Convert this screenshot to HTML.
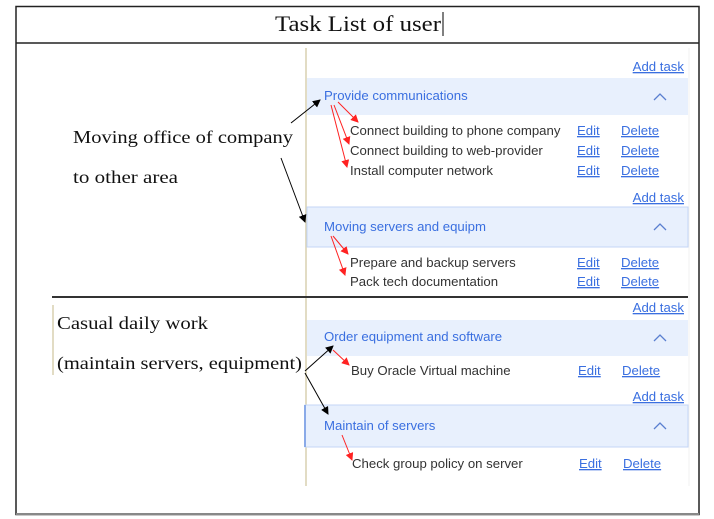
<!DOCTYPE html>
<html><head><meta charset="utf-8"><style>
html,body{margin:0;padding:0;background:#fff;width:714px;height:519px;overflow:hidden}
svg{display:block}
.s{font-family:"Liberation Sans",sans-serif;font-size:13.2px}
.t{fill:#333}
.b{fill:#3a6fe0}
.u{fill:#3a6fe0;text-decoration:underline}
.r{font-family:"Liberation Serif",serif;fill:#111}
</style></head><body>
<svg width="714" height="519" viewBox="0 0 714 519">
<defs>
<marker id="ka" markerWidth="8" markerHeight="8" refX="7" refY="4" orient="auto" markerUnits="userSpaceOnUse"><path d="M0,0 L8,4 L0,8 z" fill="#000"/></marker>
<marker id="ra" markerWidth="8" markerHeight="8" refX="7" refY="4" orient="auto" markerUnits="userSpaceOnUse"><path d="M0,0 L8,4 L0,8 z" fill="#f22"/></marker>
</defs>
<rect x="16" y="6.5" width="683" height="508" fill="none" stroke="#222" stroke-width="1.5"/>
<line x1="16" y1="43" x2="699" y2="43" stroke="#222" stroke-width="1.5"/>
<line x1="16" y1="514" x2="699" y2="514" stroke="#888" stroke-width="2"/>
<text x="275" y="31" class="r" font-size="22" textLength="166" lengthAdjust="spacingAndGlyphs">Task List of user</text>
<line x1="443" y1="12" x2="443" y2="36" stroke="#000" stroke-width="1"/>
<line x1="306" y1="48" x2="306" y2="486" stroke="#d8d0b0" stroke-width="1.5"/>
<line x1="689" y1="48" x2="689" y2="486" stroke="#f0f0f0" stroke-width="1"/>
<rect x="307" y="78" width="381" height="37" fill="#e8f0fd"/>
<rect x="307" y="207" width="381" height="40" fill="#e8f0fd" stroke="#c4d6f6"/>
<rect x="307" y="320" width="381" height="36" fill="#e8f0fd"/>
<rect x="305" y="405" width="383" height="42" fill="#e8f0fd" stroke="#c4d6f6"/>
<line x1="305" y1="405" x2="305" y2="447" stroke="#8aaae8" stroke-width="2"/>
<line x1="52" y1="297" x2="688" y2="297" stroke="#333" stroke-width="2"/>
<line x1="53" y1="305" x2="53" y2="375" stroke="#d8d0b0" stroke-width="1.5"/>
<g class="s">
<text x="684" y="71" text-anchor="end" class="u">Add task</text>
<text x="684" y="202" text-anchor="end" class="u">Add task</text>
<text x="684" y="312" text-anchor="end" class="u">Add task</text>
<text x="684" y="401" text-anchor="end" class="u">Add task</text>
<text x="324" y="100" class="b">Provide communications</text>
<text x="324" y="231" class="b">Moving servers and equipm</text>
<text x="324" y="341" class="b">Order equipment and software</text>
<text x="324" y="430" class="b">Maintain of servers</text>
<text x="350" y="135" class="t">Connect building to phone company</text>
<text x="350" y="155" class="t">Connect building to web-provider</text>
<text x="350" y="175" class="t">Install computer network</text>
<text x="350" y="267" class="t">Prepare and backup servers</text>
<text x="350" y="286" class="t">Pack tech documentation</text>
<text x="351" y="375" class="t">Buy Oracle Virtual machine</text>
<text x="352" y="468" class="t">Check group policy on server</text>
<text x="577" y="135" class="u">Edit</text><text x="621" y="135" class="u">Delete</text>
<text x="577" y="155" class="u">Edit</text><text x="621" y="155" class="u">Delete</text>
<text x="577" y="175" class="u">Edit</text><text x="621" y="175" class="u">Delete</text>
<text x="577" y="267" class="u">Edit</text><text x="621" y="267" class="u">Delete</text>
<text x="577" y="286" class="u">Edit</text><text x="621" y="286" class="u">Delete</text>
<text x="578" y="375" class="u">Edit</text><text x="622" y="375" class="u">Delete</text>
<text x="579" y="468" class="u">Edit</text><text x="623" y="468" class="u">Delete</text>
</g>
<g fill="none" stroke="#5a7fd0" stroke-width="1.3">
<path d="M654 100 l6 -6 l6 6"/><path d="M654 230 l6 -6 l6 6"/><path d="M654 341 l6 -6 l6 6"/><path d="M654 429 l6 -6 l6 6"/>
</g>
<g class="r" font-size="18">
<text x="73" y="143" textLength="220" lengthAdjust="spacingAndGlyphs">Moving office of company</text>
<text x="73" y="183" textLength="105" lengthAdjust="spacingAndGlyphs">to other area</text>
<text x="57" y="329" textLength="151" lengthAdjust="spacingAndGlyphs">Casual daily work</text>
<text x="57" y="369" textLength="245" lengthAdjust="spacingAndGlyphs">(maintain servers, equipment)</text>
</g>
<g stroke="#000" stroke-width="1" marker-end="url(#ka)">
<line x1="291" y1="123" x2="320" y2="100"/>
<line x1="281" y1="158" x2="305" y2="222"/>
<line x1="305" y1="371" x2="333" y2="346"/>
<line x1="305" y1="373" x2="328" y2="414"/>
</g>
<g stroke="#f22" stroke-width="1" marker-end="url(#ra)">
<line x1="338" y1="102" x2="358" y2="122"/>
<line x1="334" y1="105" x2="349" y2="144"/>
<line x1="331" y1="105" x2="347" y2="167"/>
<line x1="333" y1="236" x2="348" y2="254"/>
<line x1="331" y1="236" x2="345" y2="275"/>
<line x1="333" y1="350" x2="349" y2="365"/>
<line x1="342" y1="435" x2="352" y2="460"/>
</g>
</svg>
</body></html>
